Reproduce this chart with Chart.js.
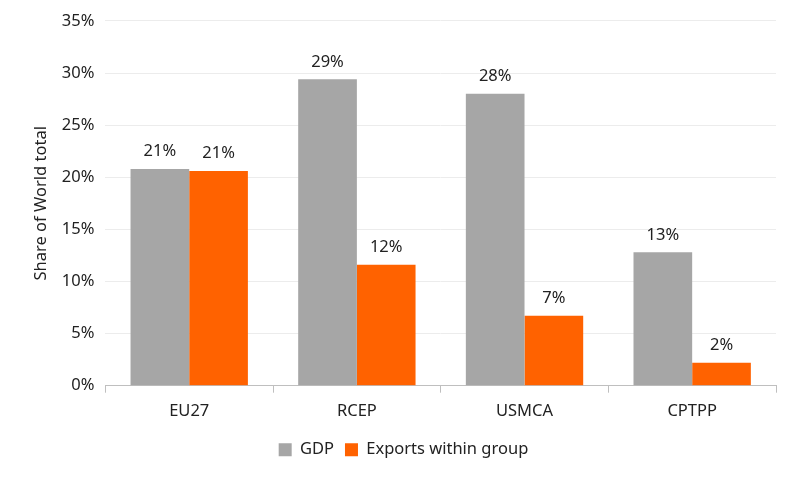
<!DOCTYPE html>
<html>
<head>
<meta charset="utf-8">
<script src="https://cdn.jsdelivr.net/npm/chart.js@4"></script>
<style>
  html, body { margin: 0; padding: 0; background: #fff; }
  #wrap { width: 800px; height: 480px; }
</style>
</head>
<body>
<div id="wrap"><canvas id="tradeChart"></canvas></div>
<script>
const categories = ["EU27", "RCEP", "USMCA", "CPTPP"];
const gdpShare = [20.8, 29.4, 28.0, 12.8];
const exportsShare = [20.6, 11.6, 6.7, 2.2];
const yTicks = [0, 5, 10, 15, 20, 25, 30, 35];

const textColor = "#222222";
const fontFamily = "'Noto Sans', sans-serif";
const fontSize = 16.5;

// draws the rounded value above each bar
const barLabels = {
    id: "barLabels",
    afterDatasetsDraw(chart) {
        const ctx = chart.ctx;
        ctx.save();
        ctx.fillStyle = textColor;
        ctx.font = fontSize + "px " + fontFamily;
        ctx.textAlign = "center";
        ctx.textBaseline = "bottom";
        chart.data.datasets.forEach((ds, i) => {
            chart.getDatasetMeta(i).data.forEach((bar, j) => {
                ctx.fillText(Math.round(ds.data[j]) + "%", bar.x, bar.y - 9);
            });
        });
        ctx.restore();
    }
};

const ctx = document.getElementById("tradeChart").getContext("2d");
new Chart(ctx, {
    type: "bar",
    data: {
        labels: categories,
        datasets: [{
            label: "GDP",
            data: gdpShare,
            backgroundColor: "#a6a6a6",
            categoryPercentage: 0.7,
            barPercentage: 1.0
        }, {
            label: "Exports within group",
            data: exportsShare,
            backgroundColor: "#ff6200",
            categoryPercentage: 0.7,
            barPercentage: 1.0
        }]
    },
    options: {
        responsive: true,
        maintainAspectRatio: false,
        animation: false,
        layout: { padding: { left: 31, right: 24, top: 15, bottom: 12 } },
        plugins: {
            legend: {
                position: "bottom",
                labels: {
                    color: textColor,
                    font: { size: fontSize, family: fontFamily },
                    boxWidth: 13,
                    boxHeight: 13,
                    padding: 11
                }
            },
            tooltip: { enabled: false }
        },
        scales: {
            x: {
                grid: { display: true, drawOnChartArea: false, offset: true, tickLength: 7, color: "#bfbfbf" },
                border: { display: true, color: "#bfbfbf" },
                ticks: { color: textColor, font: { size: fontSize, family: fontFamily }, padding: 9 }
            },
            y: {
                min: 0,
                max: 35,
                afterBuildTicks: axis => { axis.ticks = yTicks.map(v => ({ value: v })); },
                grid: { color: "#ececec", drawTicks: false },
                border: { display: false },
                ticks: {
                    color: textColor,
                    font: { size: fontSize, family: fontFamily },
                    padding: 11,
                    callback: v => v + "%"
                },
                title: {
                    display: true,
                    text: "Share of World total",
                    color: textColor,
                    font: { size: fontSize, family: fontFamily },
                    padding: { top: 0, bottom: 0 }
                }
            }
        }
    },
    plugins: [barLabels]
});
</script>
</body>
</html>
